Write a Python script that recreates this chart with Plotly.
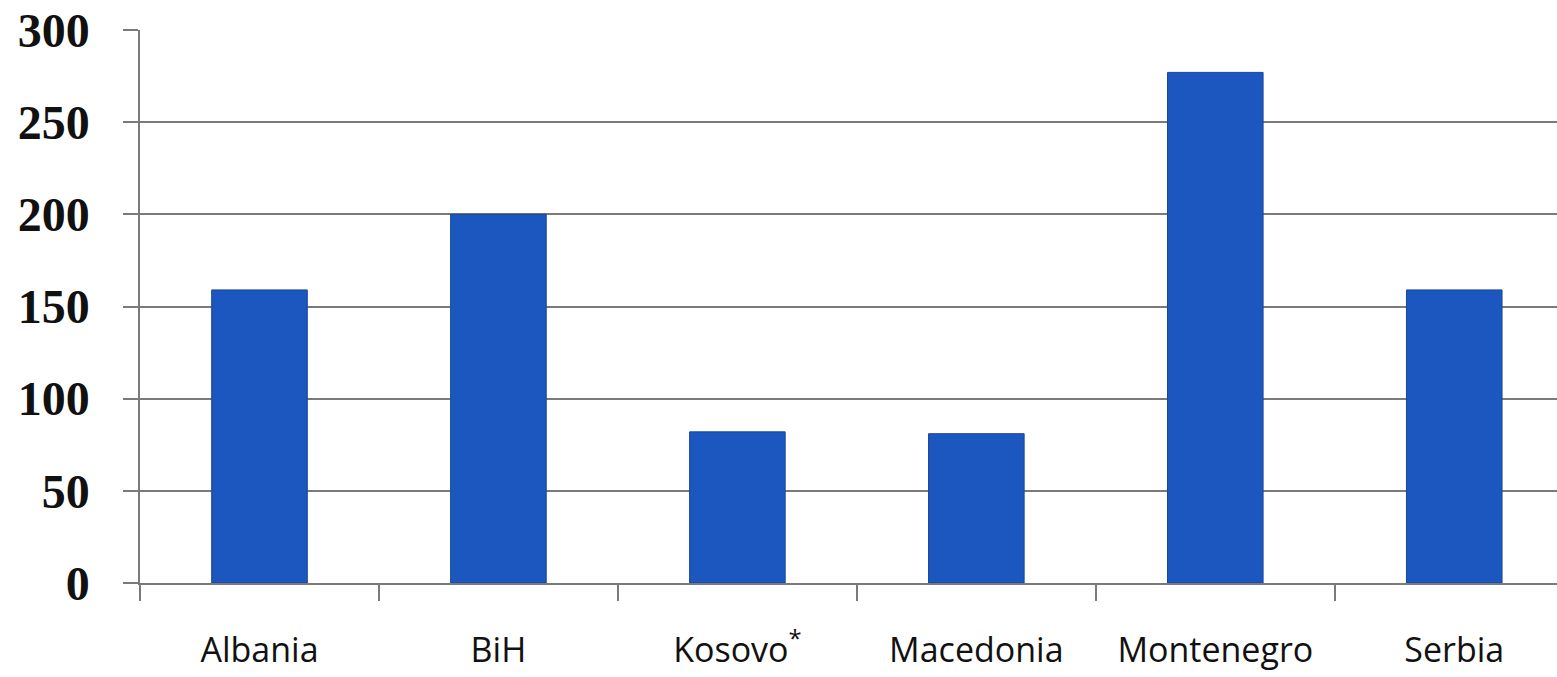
import plotly.graph_objects as go

categories = ["Albania", "BiH", "Kosovo<sup>*</sup>", "Macedonia", "Montenegro", "Serbia"]
values = [159, 200, 82, 81, 277, 159]
y_ticks = [0, 50, 100, 150, 200, 250, 300]

fig = go.Figure()
fig.add_trace(go.Bar(
    x=categories, y=values, width=0.4,
    marker=dict(color="#1B57BF", line=dict(color="#17479c", width=1)),
))

fig.update_layout(
    width=1557, height=677,
    margin=dict(l=140, r=0, t=30, b=94),
    paper_bgcolor="white", plot_bgcolor="white",
    showlegend=False,
    bargap=0.6,
)
fig.update_xaxes(
    range=[-0.5, 5.43], automargin=False,
    showline=True, linecolor="#7a7a7a", linewidth=1.5,
    ticks="outside", tickson="boundaries", ticklen=16, tickcolor="#7a7a7a", tickwidth=1.5,
    showgrid=False,
    tickfont=dict(family="Open Sans", size=34, color="#111111"),
    ticklabelstandoff=36,
)
fig.update_yaxes(
    range=[0, 300], tickvals=y_ticks, automargin=False,
    showline=True, linecolor="#7a7a7a", linewidth=1.5,
    showgrid=True, gridcolor="#7a7a7a", gridwidth=1.5,
    zeroline=False,
    ticks="outside", ticklen=15, tickcolor="#7a7a7a", tickwidth=1.5,
    tickfont=dict(family="Liberation Serif", size=48, color="#111111", weight="bold"),
    ticklabelstandoff=24,
)

fig.write_html("out.html")
